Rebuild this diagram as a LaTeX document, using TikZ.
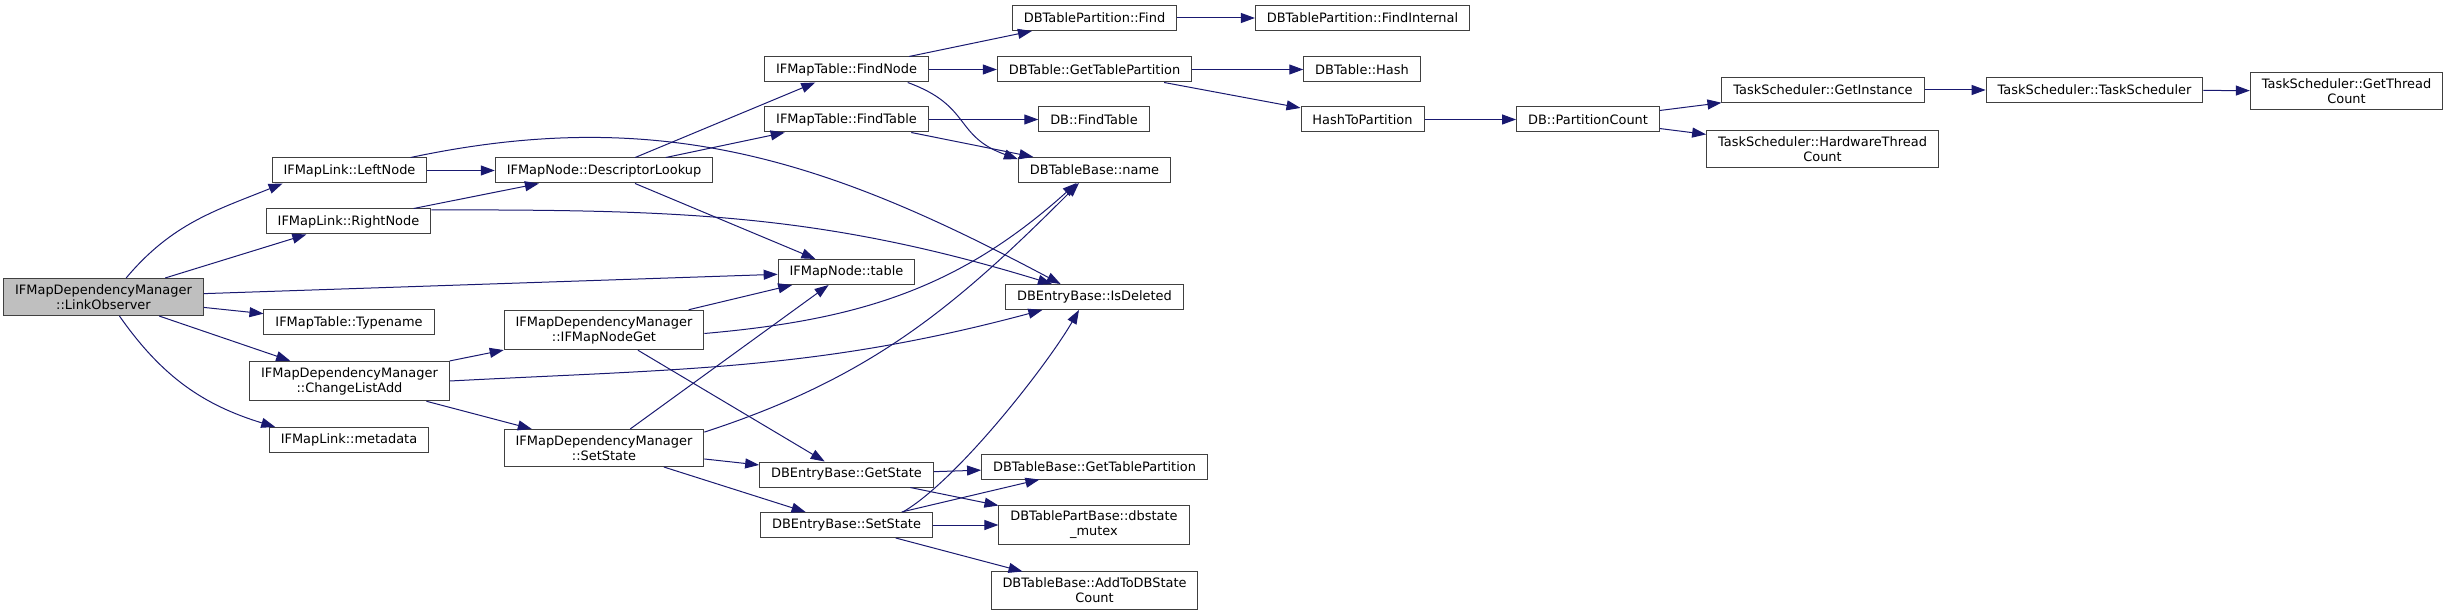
\documentclass[tikz,border=0pt]{standalone}
\usepackage{fontspec}
\setmainfont{DejaVu Sans}
\usetikzlibrary{arrows.meta}
\definecolor{edgeblue}{HTML}{191970}
\definecolor{boxgray}{HTML}{404040}
\definecolor{rootfill}{HTML}{BFBFBF}

\begin{document}
\begin{tikzpicture}[x=0.75pt, y=-0.75pt, >={Triangle[length=10.5pt,width=7.5pt]},
    fn/.style={draw=boxgray, line width=0.75pt, fill=white, align=center,
        inner xsep=8.6pt, inner ysep=4.5pt, minimum height=18.75pt,
        font=\fontsize{9.7pt}{11.25pt}\selectfont},
    call/.style={->, draw=edgeblue, fill=none, line width=0.75pt}]
    \useasboundingbox (0,0) rectangle (2448,616);

    % Caller
    \node[fn, fill=rootfill] (lo) at (103.5,297) {IFMapDependencyManager\\::LinkObserver};

    % First level callees
    \node[fn] (left) at (349.5,170.5) {IFMapLink::LeftNode};
    \node[fn] (right) at (348.5,221.5) {IFMapLink::RightNode};
    \node[fn] (typename) at (349,322.5) {IFMapTable::Typename};
    \node[fn] (cla) at (349.5,381) {IFMapDependencyManager\\::ChangeListAdd};
    \node[fn] (meta) at (349,440) {IFMapLink::metadata};

    % Second level
    \node[fn] (desc) at (604,170.5) {IFMapNode::DescriptorLookup};
    \node[fn] (nodeget) at (604,330) {IFMapDependencyManager\\::IFMapNodeGet};
    \node[fn] (dset) at (604,448) {IFMapDependencyManager\\::SetState};

    % Third level
    \node[fn] (findnode) at (846.5,69.5) {IFMapTable::FindNode};
    \node[fn] (findtable) at (846.5,119.5) {IFMapTable::FindTable};
    \node[fn] (table) at (846.5,272) {IFMapNode::table};
    \node[fn] (getstate) at (846.5,474.5) {DBEntryBase::GetState};
    \node[fn] (eset) at (846.5,525) {DBEntryBase::SetState};

    % Fourth level
    \node[fn] (pfind) at (1094.5,18) {DBTablePartition::Find};
    \node[fn] (gettp) at (1094.5,69.5) {DBTable::GetTablePartition};
    \node[fn] (dbfind) at (1094,119.5) {DB::FindTable};
    \node[fn] (name) at (1094.5,170) {DBTableBase::name};
    \node[fn] (isdel) at (1094.5,297) {DBEntryBase::IsDeleted};
    \node[fn] (basetp) at (1094.5,466.5) {DBTableBase::GetTablePartition};
    \node[fn] (mutex) at (1094,525) {DBTablePartBase::dbstate\\\_mutex};
    \node[fn] (addcount) at (1094.5,590.5) {DBTableBase::AddToDBState\\Count};

    % Deeper levels on the right
    \node[fn] (findint) at (1362.5,18) {DBTablePartition::FindInternal};
    \node[fn] (hash) at (1362,69.5) {DBTable::Hash};
    \node[fn] (h2p) at (1362.5,119.5) {HashToPartition};
    \node[fn] (pcount) at (1588,119.5) {DB::PartitionCount};
    \node[fn] (getinst) at (1823,90) {TaskScheduler::GetInstance};
    \node[fn] (hwcount) at (1822.5,149) {TaskScheduler::HardwareThread\\Count};
    \node[fn] (ts) at (2094.5,90) {TaskScheduler::TaskScheduler};
    \node[fn] (getthr) at (2346.5,91) {TaskScheduler::GetThread\\Count};

    % Straight calls
    \foreach \a/\b in {lo/right, lo/table, lo/typename, lo/cla,
        left/desc, right/desc, desc/findnode, desc/findtable, desc/table,
        findnode/pfind, findnode/gettp, findtable/dbfind, findtable/name.168,
        pfind/findint, gettp/hash, gettp/h2p, h2p/pcount,
        pcount/getinst, pcount/hwcount, getinst/ts, ts/getthr,
        cla/nodeget, cla/dset, nodeget/table, nodeget/getstate,
        dset/table, dset/getstate, dset/eset,
        getstate/basetp, getstate/mutex, eset/basetp, eset/mutex, eset/addcount}
        \draw[call] (\a) -- (\b);

    % Curved calls
    \draw[call] (lo.40) to[out=50, in=202] (left.191);
    \draw[call] (lo.-50) to[out=-55, in=163] (meta.170);
    \draw[call] (left.12) to[out=12, in=152] (isdel.159);
    \draw[call] (right.8) to[out=0, in=163] (isdel.163);
    \draw[call] (cla.east) to[out=3, in=195] (isdel.-166);
    \draw[call] (findnode.-12) to[out=-20, in=160, looseness=1.3] (name.172);
    \draw[call] (nodeget.-2) to[out=5, in=222] (name.-144);
    \draw[call] (dset.9) to[out=18, in=225] (name.-140);
    \draw[call] (eset.13) to[out=30, in=240, looseness=0.6] (isdel.-140);
\end{tikzpicture}
\end{document}
